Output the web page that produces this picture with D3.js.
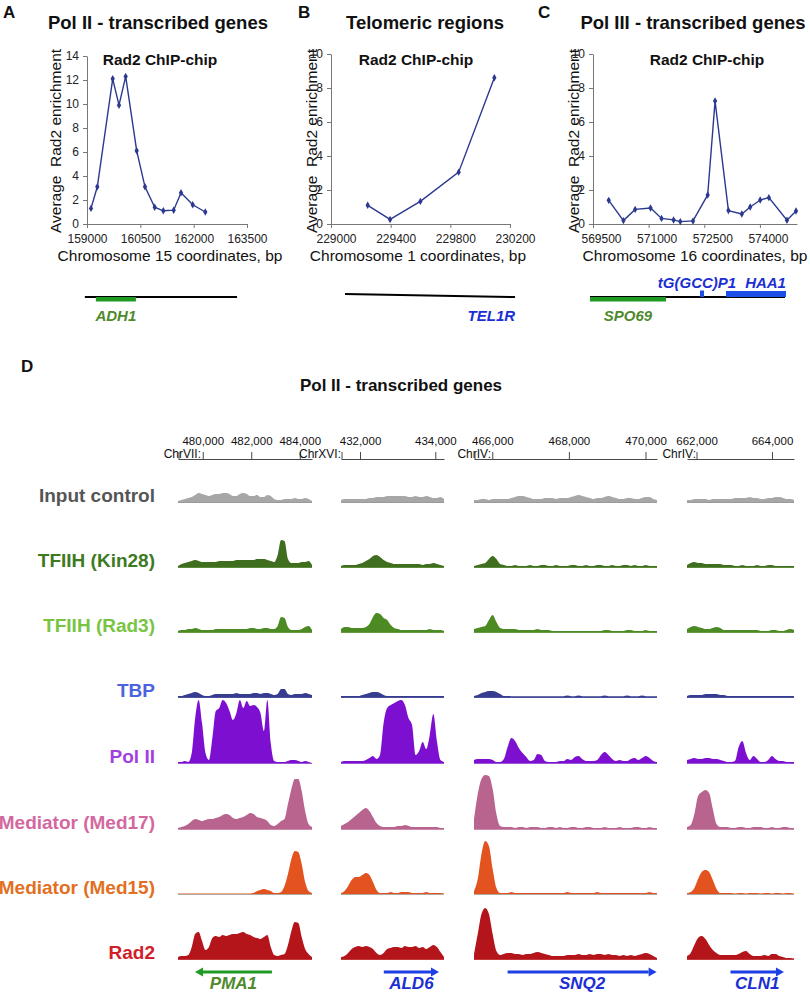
<!DOCTYPE html>
<html><head><meta charset="utf-8">
<script src="https://cdn.jsdelivr.net/npm/d3@7/dist/d3.min.js"></script>
<style>
body{margin:0;background:#fff}
svg{display:block;font-family:"Liberation Sans",Arial,Helvetica,sans-serif}
</style>
</head><body>
<svg id="fig" width="810" height="994"></svg>
<script>
// ---------------- Panel A-C data ----------------
const aCoords = [159112,159290,159723,159900,160088,160398,160631,160904,161146,161438,161644,161973,162327];
const aValues = [1.3,3.1,12.1,9.9,12.3,6.1,3.1,1.4,1.1,1.15,2.6,1.6,1.0];
const bCoords = [229246,229396,229599,229856,230095];
const bValues = [1.1,0.27,1.33,3.05,8.6];
const cCoords = [569924,570320,570636,571051,571348,571673,571853,572196,572592,572791,573151,573512,573738,574008,574242,574729,574973];
const cValues = [1.39,0.2,0.86,0.94,0.33,0.24,0.14,0.18,1.71,7.23,0.79,0.59,1.0,1.41,1.55,0.22,0.77];
const aXTicks = [159000,160500,162000,163500];
const bXTicks = [229000,229400,229800,230200];
const cXTicks = [569500,571000,572500,574000];
const aYTicks = [0,2,4,6,8,10,12,14];
const bcYTicks = [0,2,4,6,8,10];
// gene schematics (chromosome coordinates)
const aRegion = [158940,163220];
const aGenes = [{name:"ADH1",start:159250,end:160375,kind:"orf"}];
const bRegion = [229094,230234];
const bLabel = "TEL1R";
const cRegion = [569419,574676];
const cGenes = [
  {name:"SPO69",start:569419,end:571468,kind:"orf"},
  {name:"tG(GCC)P1",start:572385,end:572493,kind:"trna"},
  {name:"HAA1",start:573086,end:574703,kind:"orfplus"}
];

// ---------------- Panel D data ----------------
const colChroms = ["ChrVII:","ChrXVI:","ChrIV:","ChrIV:"];
const colDomains = [[478980,484505],[431495,434231],[465523,470300],[661748,664583]];
const colTicks = [[480000,482000,484000],[432000,434000],[466000,468000,470000],[662000,664000]];
const trackNames = ["Input control","TFIIH (Kin28)","TFIIH (Rad3)","TBP","Pol II","Mediator (Med17)","Mediator (Med15)","Rad2"];

const inputControl = [
 [1,2,3,4,5,7,9,8,7,6, 7,8,8,9,9,8,6,6,8,9, 8,6,6,7,5,5,7,6,3,2, 2,3,3,3,4,3,3,4,3,1],
 [2,3,3,3,3,3,3,3,4,4, 5,5,5,6,6,6,6,6,6,5, 5,6,5,5,6,5,4,4,5,3],
 [2,2,3,3,2,3,3,3,3,3, 4,5,6,6,5,4,3,3,3,4, 4,4,3,4,4,4,5,6,7,6, 5,4,3,4,4,5,6,5,4,3, 3,4,4,3,3,4,5,5,3,2],
 [2,2,3,3,3,3,2,3,3,3, 3,3,3,4,4,4,4,5,4,4, 3,3,4,4,5,5,4,3,3,2]
];
const kin28 = [
 [1,3,4,5,6,7,6,5,5,5, 5,5,6,6,6,6,6,7,7,7, 7,7,7,8,8,8,7,6,5,12, 27,26,8,4,4,4,5,5,6,2],
 [1,2,2,2,2,3,4,6,8,11, 12,10,7,5,4,3,3,3,3,3, 3,3,3,2,3,3,4,3,2,1],
 [1,2,3,4,8,11,8,3,2,1, 1,2,1,1,1,2,1,1,2,2, 1,1,2,1,1,1,2,2,1,1, 2,1,1,2,2,1,1,2,1,1, 2,2,1,2,1,1,2,1,1,1],
 [2,4,5,4,4,3,3,3,3,3, 2,2,2,1,1,2,1,1,1,2, 1,1,2,2,1,1,1,1,1,1]
];
const rad3 = [
 [1,2,2,3,3,4,3,2,2,2, 2,3,3,3,3,3,3,3,3,3, 3,4,4,3,3,4,4,3,3,6, 15,14,5,2,2,2,3,5,6,2],
 [3,5,5,4,4,4,4,5,8,15, 19,18,14,12,7,4,3,2,2,2, 2,2,2,2,2,3,2,2,2,1],
 [3,4,5,6,12,17,10,4,3,3, 3,3,2,2,2,2,2,3,2,2, 2,1,1,1,1,1,1,1,1,1, 1,1,1,1,1,2,2,1,1,1, 1,2,2,1,1,1,2,1,1,1],
 [3,5,6,5,4,3,3,4,5,4, 2,2,2,2,2,2,2,2,2,2, 1,1,1,2,2,1,1,2,3,2]
];
const tbp = [
 [1,1,2,3,4,5,4,2,1,1, 2,3,3,3,3,3,3,4,3,3, 3,3,4,4,3,4,4,3,2,3, 8,8,3,2,3,3,3,4,3,2],
 [1,1,1,1,1,1,2,3,4,5, 5,4,2,1,1,1,1,1,1,1, 1,1,1,1,1,1,1,1,1,1],
 [1,2,4,5,6,6,5,3,1,1, 0.8,0.8,0.8,0.8,0.8,0.8,0.8,0.8,0.8,0.8, 0.8,0.8,0.8,0.8,0.8,1.5,0.8,0.8,1.5,0.8, 0.8,0.8,0.8,0.8,0.8,1.5,0.8,0.8,0.8,0.8, 0.8,1.5,0.8,0.8,0.8,1.5,0.8,0.8,0.8,0.8],
 [1,2,2,2,2,3,3,3,3,2, 2,1,1,1,1,1,1,1,1,1, 1,1,1,1,1,1,1,1,1,1]
];
const polII = [
 [1,1,2,1,10,45,63,40,10,3, 25,52,55,63,60,52,43,50,63,55, 62,57,58,56,50,32,63,20,2,1, 1,1,2,3,3,2,1,2,1,0],
 [1,2,2,2,2,2,2,3,5,7, 4,8,40,55,58,60,62,63,58,45, 38,8,12,21,14,28,49,22,3,1],
 [3,4,4,4,4,3,1,1,4,16, 25,22,15,10,6,2,3,9,8,2, 1,1,1,2,2,4,3,6,7,4, 2,2,2,3,8,11,8,4,2,3, 2,2,4,5,3,5,7,5,2,1],
 [3,4,5,4,4,5,5,4,4,3, 2,1,1,2,16,22,10,3,7,4, 1,1,3,7,4,2,2,1,1,1]
];
const med17 = [
 [1,2,3,5,8,10,9,8,9,10, 10,11,12,14,15,14,11,10,11,12, 14,16,15,12,11,10,8,4,3,5, 8,10,25,40,50,50,38,18,5,2],
 [3,5,7,10,13,16,19,21,18,12, 6,3,2,2,2,2,3,3,4,3, 2,2,2,2,2,2,2,2,1,1],
 [10,35,50,54,53,40,15,3,2,2, 2,1,2,2,1,2,2,2,1,1, 2,2,1,2,1,1,2,2,1,1, 2,2,1,1,1,2,1,1,1,2, 1,1,1,2,2,1,1,2,1,1],
 [2,4,15,33,37,39,36,20,5,2, 2,2,1,1,2,2,1,1,2,2, 2,1,1,2,1,1,2,2,1,1]
];
const med15 = [
 [0.5,0.5,0.5,0.5,0.5,0.5,0.5,0.5,0.5,0.5, 0.5,0.5,0.5,0.5,0.5,0.5,0.5,0.5,0.5,0.5, 0.5,0.5,1,3,4,5,4,3,1,1, 2,8,20,35,43,42,30,12,3,1],
 [1,3,8,14,17,17,19,21,19,12, 4,1,1,1,2,1,1,2,2,2, 1,1,1,1,2,1,1,1,1,0.5],
 [3,15,40,53,48,25,6,1,1,1, 2,1,1,1,1,1,1,1,1,1, 1,1,1,1,1,2,1,1,1,1, 1,1,1,2,1,1,1,1,1,1, 1,1,1,1,1,1,1,2,1,1],
 [1,2,6,15,22,24,22,14,5,1, 1,1,1,0.5,1,1,0.5,1,1,1, 0.5,1,1,0.5,1,1,0.5,1,1,0.5]
];
const rad2 = [
 [2,3,3,4,12,25,27,18,9,12, 21,23,22,24,23,24,25,25,26,27, 25,24,22,21,20,22,24,12,4,3, 4,5,14,28,37,36,22,10,5,2],
 [2,3,6,10,12,13,12,13,12,10, 6,4,6,10,11,12,12,11,13,12, 12,13,11,12,10,12,14,12,7,2],
 [5,25,45,51,45,25,8,4,5,6, 6,5,5,4,5,5,6,7,6,5, 4,3,3,3,3,4,4,4,5,4, 4,5,4,5,5,4,5,4,4,3, 4,3,4,3,4,5,6,5,3,1],
 [3,6,14,21,23,20,14,9,6,4, 4,4,4,4,5,7,8,5,3,3, 3,4,3,5,5,3,2,1,1,0.5]
];
const dGenes = [
  {name:"PMA1",col:0,start:479680,end:482853,strand:-1,color:"#1f9a22",label:"#4e8a2c"},
  {name:"ALD6",col:1,start:432632,end:434098,strand:1,color:"#1d3fe6",label:"#1b2fd2"},
  {name:"SNQ2",col:2,start:466400,end:470290,strand:1,color:"#1d3fe6",label:"#1b2fd2"},
  {name:"CLN1",col:3,start:662900,end:664317,strand:1,color:"#1d3fe6",label:"#1b2fd2"}
];

// ---------------- drawing ----------------
const svg = d3.select("#fig");
const FONT = "'Liberation Sans', Arial, Helvetica, sans-serif";
const navy = "#2b3990";

function txt(x,y,s,opt={}){
  const t = svg.append("text").attr("x",x).attr("y",y).text(s)
    .attr("font-size",opt.size||12).attr("fill",opt.fill||"#111")
    .attr("font-weight",opt.weight||"normal").attr("text-anchor",opt.anchor||"start");
  if(opt.italic) t.attr("font-style","italic");
  if(opt.rotate) t.attr("transform",`rotate(-90,${x},${y})`);
  return t;
}

function linePanel(p){
  const x = d3.scaleLinear().domain(p.xDomain).range([p.left,p.right]);
  const y = d3.scaleLinear().domain(p.yDomain).range([224,p.top]);
  const gx = svg.append("g").attr("transform","translate(0,224)")
    .call(d3.axisBottom(x).tickValues(p.xTicks).tickFormat(d3.format("d")).tickSize(4).tickSizeOuter(0).tickPadding(6));
  gx.attr("font-family",FONT).attr("font-size",12);
  gx.select(".domain").attr("stroke","#777");
  gx.selectAll(".tick line").attr("stroke","#777");
  gx.selectAll(".tick text").attr("fill","#222").attr("dx",p.labelDx);
  const gy = svg.append("g").attr("transform",`translate(${p.left},0)`)
    .call(d3.axisLeft(y).tickValues(p.yTicks).tickSize(4).tickSizeOuter(0).tickPadding(4));
  gy.attr("font-family",FONT).attr("font-size",12);
  gy.select(".domain").attr("stroke","#777");
  gy.selectAll(".tick line").attr("stroke","#777");
  gy.selectAll(".tick text").attr("fill","#222");
  const pts = p.coords.map((c,i)=>[x(c),y(p.values[i])]);
  svg.append("path").attr("d",d3.line()(pts)).attr("fill","none").attr("stroke",navy).attr("stroke-width",1.4);
  svg.append("g").selectAll("path").data(pts).join("path")
    .attr("transform",d=>`translate(${d[0]},${d[1]})`)
    .attr("d",d3.symbol(d3.symbolDiamond,16)()).attr("fill",navy);
  txt(p.letterX,18,p.letter,{size:17,weight:"bold"});
  txt(p.titleX,29,p.title,{size:18.5,weight:"bold",anchor:"middle"});
  txt(p.subX,65,"Rad2 ChIP-chip",{size:15.5,weight:"bold",anchor:"middle"});
  txt(p.xlabX,261,p.xlabel,{size:15.5,anchor:"middle",fill:"#111"});
  txt(p.ylabX,141,"Average  Rad2 enrichment",{size:15.5,anchor:"middle",rotate:true,fill:"#111"}).style("white-space","pre");
  return x;
}

const xA = linePanel({xDomain:[159000,163500],left:87,right:247,top:56,yDomain:[0,14],xTicks:aXTicks,yTicks:aYTicks,
  coords:aCoords,values:aValues,labelDx:0,letter:"A",letterX:3,title:"Pol II - transcribed genes",titleX:158,subX:160,
  xlabel:"Chromosome 15 coordinates, bp",xlabX:170,ylabX:61});
const xB = linePanel({xDomain:[229000,230200],left:331,right:510,top:54,yDomain:[0,10],xTicks:bXTicks,yTicks:bcYTicks,
  coords:bCoords,values:bValues,labelDx:5,letter:"B",letterX:298,title:"Telomeric regions",titleX:425,subX:416,
  xlabel:"Chromosome 1 coordinates, bp",xlabX:418,ylabX:317});
const xC = linePanel({xDomain:[569500,575000],left:593,right:797,top:54,yDomain:[0,10],xTicks:cXTicks,yTicks:bcYTicks,
  coords:cCoords,values:cValues,labelDx:8,letter:"C",letterX:538,title:"Pol III - transcribed genes",titleX:693,subX:707,
  xlabel:"Chromosome 16 coordinates, bp",xlabX:695,ylabX:579});

// gene schematics under A-C
const LINE_Y = 297;
const greenBar = "#1f9a22", greenTxt = "#4e8a2c", blueBar = "#1d4fe6", blueTxt = "#1b2fd2";
svg.append("line").attr("x1",xA(aRegion[0])).attr("x2",xA(aRegion[1])).attr("y1",LINE_Y).attr("y2",LINE_Y).attr("stroke","#000").attr("stroke-width",2.2);
aGenes.forEach(g=>{
  svg.append("rect").attr("x",xA(g.start)).attr("width",xA(g.end)-xA(g.start)).attr("y",LINE_Y).attr("height",4.5).attr("fill",greenBar);
  txt((xA(g.start)+xA(g.end))/2,321,g.name,{size:15,weight:"bold",italic:true,fill:greenTxt,anchor:"middle"});
});
svg.append("line").attr("x1",xB(bRegion[0])).attr("x2",xB(bRegion[1])).attr("y1",LINE_Y-3).attr("y2",LINE_Y).attr("stroke","#000").attr("stroke-width",2);
txt(xB(bRegion[1]),321,bLabel,{size:15,weight:"bold",italic:true,fill:blueTxt,anchor:"end"});
svg.append("line").attr("x1",xC(cRegion[0])).attr("x2",xC(cRegion[1])).attr("y1",LINE_Y).attr("y2",LINE_Y).attr("stroke","#000").attr("stroke-width",2.2);
cGenes.forEach(g=>{
  const x0 = xC(g.start), x1 = xC(g.end);
  if(g.kind==="orf"){
    svg.append("rect").attr("x",x0).attr("width",x1-x0).attr("y",LINE_Y).attr("height",4.5).attr("fill",greenBar);
    txt((x0+x1)/2,321,g.name,{size:15,weight:"bold",italic:true,fill:greenTxt,anchor:"middle"});
  } else if(g.kind==="trna"){
    svg.append("rect").attr("x",x0).attr("width",x1-x0).attr("y",LINE_Y-6.5).attr("height",6.5).attr("fill",blueBar);
    txt((x0+x1)/2-5,288,g.name,{size:15,weight:"bold",italic:true,fill:blueTxt,anchor:"middle"});
  } else {
    svg.append("rect").attr("x",x0).attr("width",x1-x0).attr("y",LINE_Y-6).attr("height",6).attr("fill",blueBar);
    txt(x1,288,g.name,{size:15,weight:"bold",italic:true,fill:blueTxt,anchor:"end"});
  }
});

// ---------------- Panel D ----------------
txt(21,372,"D",{size:17,weight:"bold"});
txt(401,391,"Pol II - transcribed genes",{size:17,weight:"bold",anchor:"middle"});

const colRanges = [[178,312],[341,444],[474,657],[687,794]];
const chrLabelEnd = [201,341,491,696];
const colScales = colDomains.map((d,i)=>d3.scaleLinear().domain(d).range(colRanges[i]));
const RULER_Y = 459;
colScales.forEach((xs,i)=>{
  const g = svg.append("g").attr("transform",`translate(0,${RULER_Y})`)
    .call(d3.axisTop(xs).tickValues(colTicks[i]).tickFormat(d3.format(",")).tickSize(7).tickSizeOuter(0).tickPadding(7));
  g.attr("font-family",FONT).attr("font-size",11.5);
  g.select(".domain").attr("stroke","#333").attr("stroke-width",0.9);
  g.selectAll(".tick line").attr("stroke","#333").attr("stroke-width",0.9);
  g.selectAll(".tick text").attr("fill","#111");
  txt(chrLabelEnd[i],RULER_Y-1,colChroms[i],{size:12,anchor:"end",fill:"#111"});
  if(xs(colTicks[i][0]) - colRanges[i][0] > 12){
    svg.append("line").attr("x1",colRanges[i][0]+1).attr("x2",colRanges[i][0]+1).attr("y1",RULER_Y).attr("y2",RULER_Y-7).attr("stroke","#333").attr("stroke-width",0.9);
  }
});

const trackData = [inputControl,kin28,rad3,tbp,polII,med17,med15,rad2];
const trackFill = ["#a7a7a7","#3f6f1e","#4c8a24","#363c90","#7d10d0","#b9648f","#e2531f","#b3151b"];
const trackLine = ["#9a9a9a","#5b8a3a","#6a9a44","#4a4f9c","#9b55d8","#c98aab","#b0a8a0","#c0393c"];
const labelColor = ["#555555","#3e7a1f","#79c443","#4b63df","#a33fe0","#d3689f","#e2701f","#d1202a"];
const baselines = [502,567,632,697,763,829,894,959];

trackData.forEach((track,t)=>{
  const ty = d3.scaleLinear().domain([0,64]).range([baselines[t],baselines[t]-64]);
  track.forEach((vals,c)=>{
    const xs = colScales[c];
    const dom = colDomains[c];
    const step = (dom[1]-dom[0])/(vals.length-1);
    const area = d3.area().curve(d3.curveMonotoneX)
      .x((d,i)=>xs(dom[0]+i*step)).y0(ty(0)).y1(d=>ty(d));
    svg.append("path").attr("d",area(vals)).attr("fill",trackFill[t]);
    svg.append("line").attr("x1",xs(dom[0])).attr("x2",xs(dom[1])).attr("y1",ty(0)+0.5).attr("y2",ty(0)+0.5)
      .attr("stroke",trackLine[t]).attr("stroke-width",1);
  });
  txt(155,baselines[t],trackNames[t],{size:19,weight:"bold",anchor:"end",fill:labelColor[t]});
});

// gene arrows
const ARROW_Y = 972;
dGenes.forEach(g=>{
  const xs = colScales[g.col];
  const x0 = xs(g.start), x1 = xs(g.end);
  const head = 8, hw = 4.5;
  let tip, tail;
  if(g.strand>0){ tip = x1; tail = x0; } else { tip = x0; tail = x1; }
  const dir = g.strand>0?1:-1;
  svg.append("line").attr("x1",tail).attr("x2",tip-dir*head).attr("y1",ARROW_Y).attr("y2",ARROW_Y)
    .attr("stroke",g.color).attr("stroke-width",3);
  svg.append("path").attr("d",`M${tip},${ARROW_Y} L${tip-dir*head},${ARROW_Y-hw} L${tip-dir*head},${ARROW_Y+hw} Z`).attr("fill",g.color);
  txt((x0+x1)/2,989,g.name,{size:17,weight:"bold",italic:true,fill:g.label,anchor:"middle"});
});
</script>
</body></html>
